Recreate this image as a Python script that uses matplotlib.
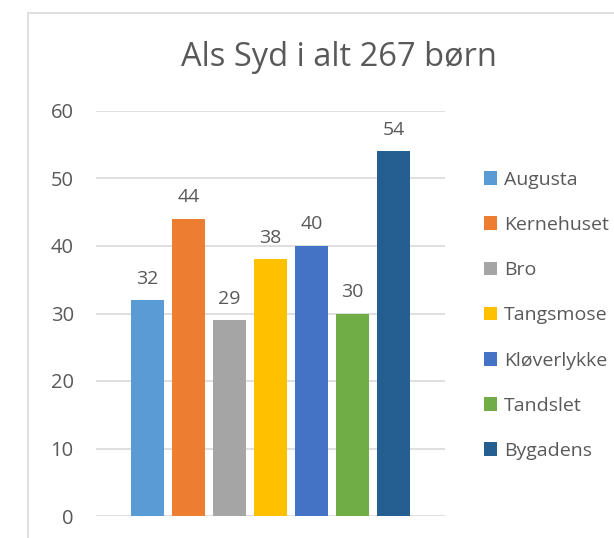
import matplotlib.pyplot as plt
from matplotlib.patches import Rectangle

# data
names = ['Augusta', 'Kernehuset', 'Bro', 'Tangsmose', 'Kløverlykke', 'Tandslet', 'Bygadens']
values = [32, 44, 29, 38, 40, 30, 54]
colors = ['#5B9BD5', '#ED7D31', '#A5A5A5', '#FFC000', '#4472C4', '#70AD47', '#255E91']
yticks = [0, 10, 20, 30, 40, 50, 60]

plt.rcParams['font.family'] = ['Open Sans', 'DejaVu Sans']
txt = '#595959'

fig = plt.figure(figsize=(6.14, 5.38), dpi=100)
# chart border (excel style), goes past right/bottom edge
fig.patches.append(Rectangle((28/614, -0.1), 1.0, 1 - 13/538 + 0.1, transform=fig.transFigure,
                             fill=False, edgecolor='#d9d9d9', lw=1.2))

ax = fig.add_axes([96/614, 1-516/538, (445-96)/614, (516-111)/538])
for i, (n, v, c) in enumerate(zip(names, values, colors)):
    ax.bar(i, v, width=0.8, color=c, label=n, zorder=3)
    ax.annotate(str(v), (i, v), xytext=(0, 9), textcoords='offset points',
                ha='center', va='bottom', fontsize=14, color=txt)

ax.set_xlim(-1.26, 7.26)
ax.set_ylim(0, 60)
ax.set_yticks(yticks)
ax.set_xticks([])
ax.tick_params(axis='y', length=0, labelsize=14.5, labelcolor=txt, pad=16)
ax.grid(axis='y', color='#d9d9d9', lw=1.2, zorder=0)
for s in ax.spines.values():
    s.set_visible(False)

fig.text(339/614, 1-57/538, 'Als Syd i alt 267 børn', ha='center', va='center', fontsize=23.5, color=txt)

leg = fig.legend(loc='upper left', bbox_to_anchor=(476/614, 1-163/538), frameon=False, fontsize=14,
                 handlelength=0.7, handleheight=0.7, handletextpad=0.35, labelspacing=1.4,
                 labelcolor=txt, borderaxespad=0)

fig.savefig('out.png', dpi=100)
